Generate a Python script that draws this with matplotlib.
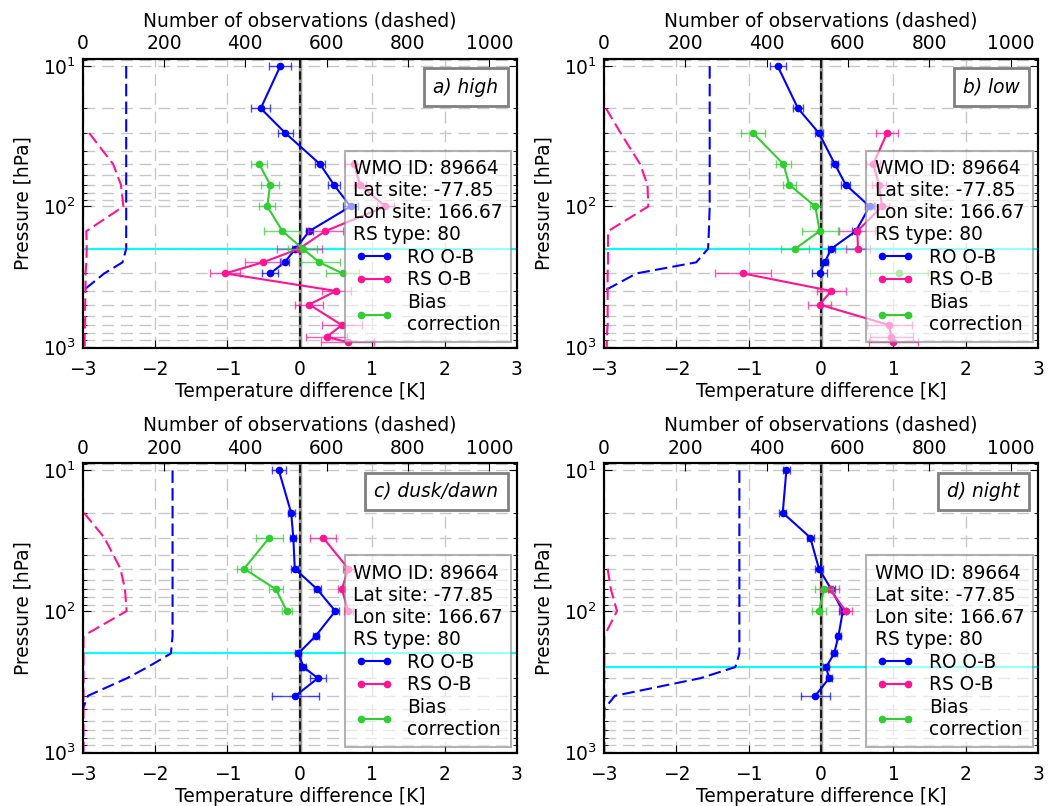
import numpy as np
import matplotlib
matplotlib.use('Agg')
import matplotlib.pyplot as plt
from matplotlib.offsetbox import AnchoredText

nan = np.nan

# pressure levels [hPa]
p = [10, 20, 30, 50, 70, 100, 150, 200, 250, 300, 400, 500, 700, 850, 925, 1000]

# a) high
ro_a = [-0.27, -0.54, -0.20, 0.28, 0.47, 0.70, 0.13, -0.06, -0.21, -0.41, nan, nan, nan, nan, nan, nan]
ro_err_a = [0.15, 0.13, 0.10, 0.07, 0.08, 0.10, 0.05, 0.05, 0.06, 0.11, nan, nan, nan, nan, nan, nan]
rs_a = [nan, nan, nan, 0.75, 0.83, 1.18, 0.35, -0.01, -0.51, -1.03, 0.50, 0.13, 0.58, 0.37, 0.66, nan]
rs_err_a = [nan, nan, nan, 0.12, 0.08, 0.12, 0.24, 0.31, 0.25, 0.21, 0.20, 0.19, 0.28, 0.28, 0.37, nan]
bc_a = [nan, nan, nan, -0.56, -0.41, -0.45, -0.24, 0.04, 0.27, 0.59, nan, nan, nan, nan, nan, nan]
bc_err_a = [nan, nan, nan, 0.11, 0.12, 0.11, 0.25, 0.20, 0.28, 0.23, nan, nan, nan, nan, nan, nan]
n_ro_a = [107, 107, 107, 107, 107, 107, 107, 107, 98, 53, 0, nan, nan, nan, nan, nan]
n_rs_a = [nan, nan, 16, 75, 94, 100, 9, 10, 9, 7, 7, 6, 6, 5, 5, 5]

# b) low
ro_b = [-0.60, -0.32, -0.03, 0.19, 0.34, 0.67, 0.48, 0.14, 0.05, -0.02, nan, nan, nan, nan, nan, nan]
ro_err_b = [0.11, 0.07, 0.06, 0.05, 0.06, 0.06, 0.05, 0.05, 0.05, 0.10, nan, nan, nan, nan, nan, nan]
rs_b = [nan, nan, 0.91, 0.72, 0.80, 0.84, 0.50, 0.51, nan, -1.08, 0.14, -0.02, 0.94, 0.97, 1.00, nan]
rs_err_b = [nan, nan, 0.15, 0.10, 0.10, 0.10, 0.25, 0.17, nan, 0.39, 0.20, 0.16, 0.31, 0.30, 0.34, nan]
bc_b = [nan, nan, -0.94, -0.52, -0.44, -0.08, -0.02, -0.36, nan, 1.07, nan, nan, nan, nan, nan, nan]
bc_err_b = [nan, nan, 0.17, 0.10, 0.09, 0.08, 0.25, 0.19, nan, 0.40, nan, nan, nan, nan, nan, nan]
n_ro_b = [260, 260, 260, 260, 260, 260, 258, 256, 227, 80, 0, nan, nan, nan, nan, nan]
n_rs_b = [nan, 5, 41, 89, 107, 109, 10, 10, 10, 9, 9, 9, 9, 7, 7, 7]

# c) dusk/dawn
ro_c = [-0.29, -0.12, -0.09, -0.07, 0.24, 0.49, 0.22, -0.02, 0.05, 0.25, -0.06, nan, nan, nan, nan, nan]
ro_err_c = [0.10, 0.05, 0.04, 0.05, 0.05, 0.05, 0.04, 0.04, 0.04, 0.11, 0.32, nan, nan, nan, nan, nan]
rs_c = [nan, nan, 0.32, 0.67, 0.58, 0.67, nan, nan, nan, nan, nan, nan, nan, nan, nan, nan]
rs_err_c = [nan, nan, 0.18, 0.08, 0.05, 0.06, nan, nan, nan, nan, nan, nan, nan, nan, nan, nan]
bc_c = [nan, nan, -0.42, -0.77, -0.33, -0.18, nan, nan, nan, nan, nan, nan, nan, nan, nan, nan]
bc_err_c = [nan, nan, 0.19, 0.10, 0.10, 0.07, nan, nan, nan, nan, nan, nan, nan, nan, nan, nan]
n_ro_c = [221, 221, 221, 221, 221, 221, 221, 217, 160, 109, 13, 0, nan, nan, nan, nan]
n_rs_c = [nan, 3, 53, 93, 104, 108, 2, 2, 2, 2, 2, 2, 2, 2, 2, 2]

# d) night
ro_d = [-0.48, -0.53, -0.15, -0.03, 0.14, 0.30, 0.24, 0.18, 0.07, 0.11, -0.08, nan, nan, nan, nan, nan]
ro_err_d = [0.05, 0.05, 0.05, 0.05, 0.05, 0.05, 0.04, 0.04, 0.04, 0.04, 0.20, nan, nan, nan, nan, nan]
rs_d = [nan, nan, nan, nan, 0.12, 0.34, nan, nan, nan, nan, nan, nan, nan, nan, nan, nan]
rs_err_d = [nan, nan, nan, nan, 0.13, 0.08, nan, nan, nan, nan, nan, nan, nan, nan, nan, nan]
bc_d = [nan, nan, nan, nan, 0.04, -0.03, nan, nan, nan, nan, nan, nan, nan, nan, nan, nan]
bc_err_d = [nan, nan, nan, nan, 0.12, 0.10, nan, nan, nan, nan, nan, nan, nan, nan, nan, nan]
n_ro_d = [333, 333, 333, 333, 333, 333, 333, 333, 323, 237, 27, 0, nan, nan, nan, nan]
n_rs_d = [nan, nan, nan, 9, 17, 32, 1, 1, 1, 1, 1, 1, 1, 1, 1, 1]

titles = ['a) high', 'b) low', 'c) dusk/dawn', 'd) night']
tropo = [200, 200, 200, 250]
info = 'WMO ID: 89664\nLat site: -77.85\nLon site: 166.67\nRS type: 80'

data = [
    (ro_a, ro_err_a, rs_a, rs_err_a, bc_a, bc_err_a, n_ro_a, n_rs_a),
    (ro_b, ro_err_b, rs_b, rs_err_b, bc_b, bc_err_b, n_ro_b, n_rs_b),
    (ro_c, ro_err_c, rs_c, rs_err_c, bc_c, bc_err_c, n_ro_c, n_rs_c),
    (ro_d, ro_err_d, rs_d, rs_err_d, bc_d, bc_err_d, n_ro_d, n_rs_d),
]

c_ro = 'blue'
c_rs = 'deeppink'
c_bc = 'limegreen'
fs = 13.4

fig = plt.figure(figsize=(10.48, 8.06), dpi=100)
# axes boxes (left, bottom, width, height)
pos = [[0.0789, 0.5682, 0.4144, 0.3586],
       [0.5763, 0.5682, 0.4144, 0.3586],
       [0.0789, 0.0658, 0.4144, 0.3594],
       [0.5763, 0.0658, 0.4144, 0.3594]]

for i in range(4):
    ro, ro_err, rs, rs_err, bc, bc_err, n_ro, n_rs = data[i]
    ax = fig.add_axes(pos[i])
    ax.set_yscale('log')
    ax2 = ax.twiny()

    ax.grid(True, which='both', axis='y', color='0.78', ls=(0, (8.5, 5)), lw=1)
    ax.grid(True, which='major', axis='x', color='0.78', ls=(0, (8.5, 5)), lw=1)
    ax.axvline(0, color='0.6', lw=2.5)
    ax.axvline(0, color='k', ls=(0, (5, 2)), lw=1.2)
    ax.axhline(tropo[i], color='cyan', lw=1.5)

    handles = []
    for x, err, col, lab in [(ro, ro_err, c_ro, 'RO O-B'), (rs, rs_err, c_rs, 'RS O-B'),
                             (bc, bc_err, c_bc, 'Bias\ncorrection')]:
        ax.errorbar(x, p, xerr=err, fmt='none', ecolor=col, elinewidth=1, capsize=3,
                    capthick=1, alpha=0.7)
        l, = ax.plot(x, p, '-o', color=col, lw=1.5, ms=4.5, mec=col, label=lab)
        handles.append(l)

    # number of observations on the top axis
    ax2.plot(n_ro, p, color=c_ro, ls=(0, (6, 2.5)), lw=1.5)
    ax2.plot(n_rs, p, color=c_rs, ls=(0, (6, 2.5)), lw=1.5)

    ax.set_xlim(-3, 3)
    ax2.set_xlim(0, 1068)
    ax2.set_xticks([0, 200, 400, 600, 800, 1000])
    ax.set_ylim(1020, 8.9)

    ax.set_xlabel('Temperature difference [K]', fontsize=fs, labelpad=2)
    ax2.set_xlabel('Number of observations (dashed)', fontsize=fs, labelpad=6)
    ax.set_ylabel('Pressure [hPa]', fontsize=fs, labelpad=7.5)

    ax.tick_params(which='both', direction='in', top=False, right=True, labelsize=13.4)
    ax.tick_params(which='major', length=6, pad=8.5)
    ax.tick_params(which='minor', length=3)
    ax.tick_params(axis='y', pad=5)
    ax2.tick_params(direction='in', length=6, labelsize=13.4, pad=4)
    for a in (ax, ax2):
        for s in a.spines.values():
            s.set_linewidth(1.5)

    at = AnchoredText(titles[i], loc='upper right', pad=0.5, borderpad=0.5,
                      prop=dict(size=fs, style='italic'))
    at.patch.set_edgecolor('gray')
    at.patch.set_linewidth(2)
    ax2.add_artist(at)

    leg = ax2.legend(handles, [h.get_label() for h in handles], loc='lower right',
                     numpoints=2, fontsize=fs, title=info, title_fontsize=fs,
                     framealpha=0.6, fancybox=False, edgecolor='gray', borderpad=0.45,
                     labelspacing=0.2, borderaxespad=0.3)
    leg.get_title().set_multialignment('left')
    leg.get_frame().set_linewidth(1.5)

fig.savefig('out.png', dpi=100)
